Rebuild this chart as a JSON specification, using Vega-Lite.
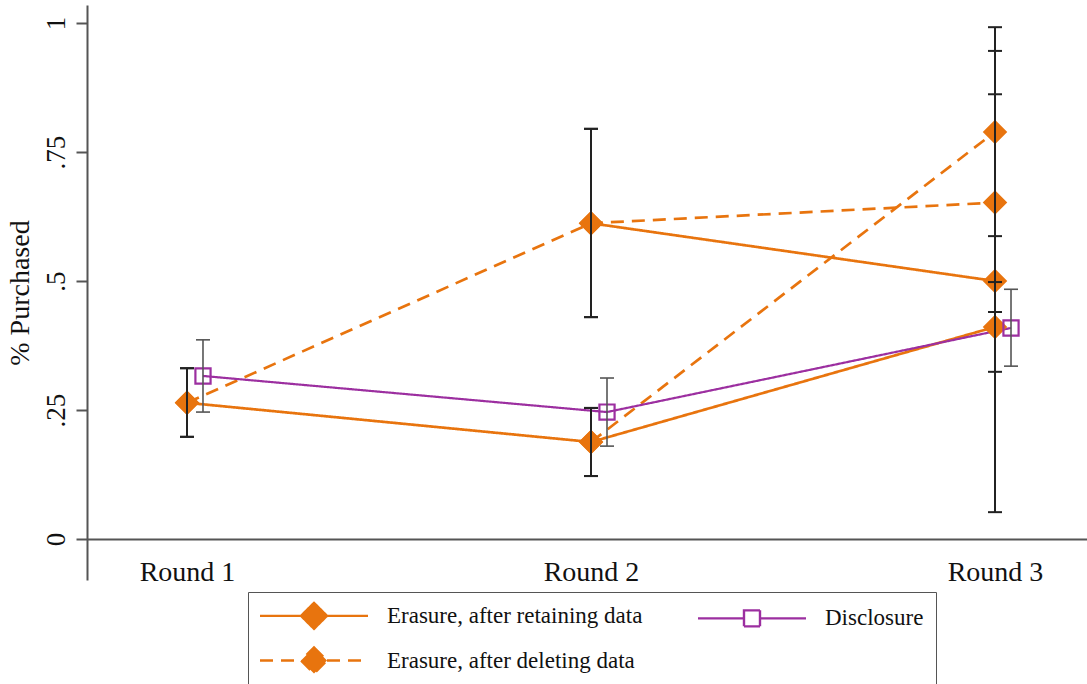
{
  "$schema": "https://vega.github.io/schema/vega-lite/v6.json",
  "width": 1000,
  "height": 575,
  "autosize": {"type": "none"},
  "padding": {"left": 87, "top": 5, "right": 0, "bottom": 104},
  "background": "white",
  "config": {"view": {"stroke": null}, "font": "Liberation Serif"},
  "data": {
    "values": [
      {"path": "A", "series": "Erasure, after retaining data", "round": 1, "p": 0.264, "lo": 0.198, "hi": 0.331},
      {"path": "A", "series": "Erasure, after retaining data", "round": 2, "p": 0.188, "lo": 0.122, "hi": 0.254},
      {"path": "A", "series": "Erasure, after retaining data", "round": 3, "p": 0.411, "lo": 0.324, "hi": 0.498},
      {"path": "B", "series": "Erasure, after retaining data", "round": 2, "p": 0.612, "lo": 0.430, "hi": 0.795},
      {"path": "B", "series": "Erasure, after retaining data", "round": 3, "p": 0.500, "lo": 0.052, "hi": 0.946},
      {"path": "E", "series": "Disclosure", "round": 1, "p": 0.316, "lo": 0.246, "hi": 0.386},
      {"path": "E", "series": "Disclosure", "round": 2, "p": 0.246, "lo": 0.180, "hi": 0.312},
      {"path": "E", "series": "Disclosure", "round": 3, "p": 0.409, "lo": 0.335, "hi": 0.484},
      {"path": "C", "series": "Erasure, after deleting data", "round": 1, "p": 0.264, "lo": 0.198, "hi": 0.331},
      {"path": "C", "series": "Erasure, after deleting data", "round": 2, "p": 0.612, "lo": 0.430, "hi": 0.795},
      {"path": "C", "series": "Erasure, after deleting data", "round": 3, "p": 0.652, "lo": 0.440, "hi": 0.862},
      {"path": "D", "series": "Erasure, after deleting data", "round": 2, "p": 0.188, "lo": 0.122, "hi": 0.254},
      {"path": "D", "series": "Erasure, after deleting data", "round": 3, "p": 0.789, "lo": 0.587, "hi": 0.992}
    ]
  },
  "encoding": {
    "x": {
      "field": "round",
      "type": "quantitative",
      "scale": {"domain": [0.7525, 3.2277], "nice": false, "zero": false},
      "axis": {
        "values": [1, 2, 3],
        "labelExpr": "'Round ' + datum.value",
        "ticks": false,
        "grid": false,
        "title": null,
        "offset": -41,
        "domainColor": "#555555",
        "domainWidth": 2,
        "labelFont": "Liberation Serif",
        "labelFontSize": 28,
        "labelColor": "#111111",
        "labelPadding": 19
      }
    }
  },
  "layer": [
    {
      "transform": [{"filter": "datum.series != 'Disclosure'"}],
      "mark": {"type": "line", "strokeWidth": 2.7},
      "encoding": {
        "y": {
          "field": "p",
          "type": "quantitative",
          "scale": {"domain": [-0.0795, 1.035], "nice": false, "zero": false},
          "axis": {
            "values": [0, 0.25, 0.5, 0.75, 1],
            "labelExpr": "datum.value == 0 ? '0' : datum.value == 1 ? '1' : replace(format(datum.value, '.2~f'), '0.', '.')",
            "labelAngle": -90,
            "labelAlign": "center",
            "labelBaseline": "bottom",
            "labelPadding": 6,
            "labelFont": "Liberation Serif",
            "labelFontSize": 27,
            "labelColor": "#111111",
            "tickSize": 11,
            "tickWidth": 2,
            "tickColor": "#555555",
            "domainColor": "#555555",
            "domainWidth": 2,
            "grid": false,
            "title": "% Purchased",
            "titleFont": "Liberation Serif",
            "titleFontSize": 28,
            "titleFontWeight": "normal",
            "titleColor": "#111111",
            "titlePadding": 8
          }
        },
        "detail": {"field": "path"},
        "color": {
          "field": "series",
          "type": "nominal",
          "scale": {
            "domain": ["Erasure, after retaining data", "Disclosure", "Erasure, after deleting data"],
            "range": ["#E8740E", "#9C2FA0", "#E8740E"]
          },
          "legend": {
            "title": null,
            "orient": "none",
            "direction": "horizontal",
            "legendX": 161,
            "legendY": 587,
            "columns": 2,
            "symbolSize": 400,
            "symbolStrokeWidth": 2.4,
            "labelFont": "Liberation Serif",
            "labelFontSize": 23,
            "labelColor": "#111111",
            "labelOffset": 104,
            "labelLimit": 500,
            "columnPadding": 50,
            "rowPadding": 8,
            "padding": 12,
            "strokeColor": "#555555",
            "fillColor": "white",
            "encode": {
              "symbols": {
                "update": {
                  "x": {"value": 54},
                  "shape": {"signal": "datum.value == 'Disclosure' ? 'M-5.4,0L-0.8,0M0.8,0L5.4,0M-0.8,-0.8L0.8,-0.8L0.8,0.8L-0.8,0.8Z' : 'M-5.4,0L-1.3,0M1.3,0L5.4,0M0,-1.3L1.3,0L0,1.3L-1.3,0Z'"},
                  "fill": {"signal": "datum.value == 'Disclosure' ? 'transparent' : '#E8740E'"}
                }
              }
            }
          }
        },
        "strokeDash": {
          "field": "series",
          "type": "nominal",
          "scale": {
            "domain": ["Erasure, after retaining data", "Disclosure", "Erasure, after deleting data"],
            "range": [[1, 0], [1, 0], [13, 8]]
          },
          "legend": {"title": null}
        }
      }
    },
    {
      "transform": [{"filter": "datum.series == 'Disclosure'"}],
      "mark": {"type": "line", "strokeWidth": 2.2, "xOffset": 16},
      "encoding": {
        "y": {"field": "p", "type": "quantitative"},
        "detail": {"field": "path"},
        "color": {"field": "series", "type": "nominal"},
        "strokeDash": {"field": "series", "type": "nominal"}
      }
    },
    {
      "transform": [{"filter": "datum.series != 'Disclosure'"}],
      "mark": {"type": "point", "shape": "diamond", "filled": true, "size": 600, "color": "#E8740E", "opacity": 1},
      "encoding": {"y": {"field": "p", "type": "quantitative"}}
    },
    {
      "transform": [{"filter": "datum.series == 'Disclosure'"}],
      "mark": {"type": "point", "shape": "square", "filled": false, "size": 230, "color": "#9C2FA0", "strokeWidth": 2.2, "opacity": 1, "xOffset": 16},
      "encoding": {"y": {"field": "p", "type": "quantitative"}}
    },
    {
      "transform": [{"filter": "datum.series != 'Disclosure'"}],
      "mark": {"type": "rule", "color": "#222222", "strokeWidth": 2},
      "encoding": {"y": {"field": "lo", "type": "quantitative"}, "y2": {"field": "hi"}}
    },
    {
      "transform": [{"filter": "datum.series != 'Disclosure'"}],
      "mark": {"type": "tick", "orient": "horizontal", "color": "#222222", "size": 14, "thickness": 2, "opacity": 1},
      "encoding": {"y": {"field": "lo", "type": "quantitative"}}
    },
    {
      "transform": [{"filter": "datum.series != 'Disclosure'"}],
      "mark": {"type": "tick", "orient": "horizontal", "color": "#222222", "size": 14, "thickness": 2, "opacity": 1},
      "encoding": {"y": {"field": "hi", "type": "quantitative"}}
    },
    {
      "transform": [{"filter": "datum.series == 'Disclosure'"}],
      "mark": {"type": "rule", "color": "#555555", "strokeWidth": 1.6, "xOffset": 16},
      "encoding": {"y": {"field": "lo", "type": "quantitative"}, "y2": {"field": "hi"}}
    },
    {
      "transform": [{"filter": "datum.series == 'Disclosure'"}],
      "mark": {"type": "tick", "orient": "horizontal", "color": "#555555", "size": 14, "thickness": 1.6, "opacity": 1, "xOffset": 16},
      "encoding": {"y": {"field": "lo", "type": "quantitative"}}
    },
    {
      "transform": [{"filter": "datum.series == 'Disclosure'"}],
      "mark": {"type": "tick", "orient": "horizontal", "color": "#555555", "size": 14, "thickness": 1.6, "opacity": 1, "xOffset": 16},
      "encoding": {"y": {"field": "hi", "type": "quantitative"}}
    }
  ]
}
